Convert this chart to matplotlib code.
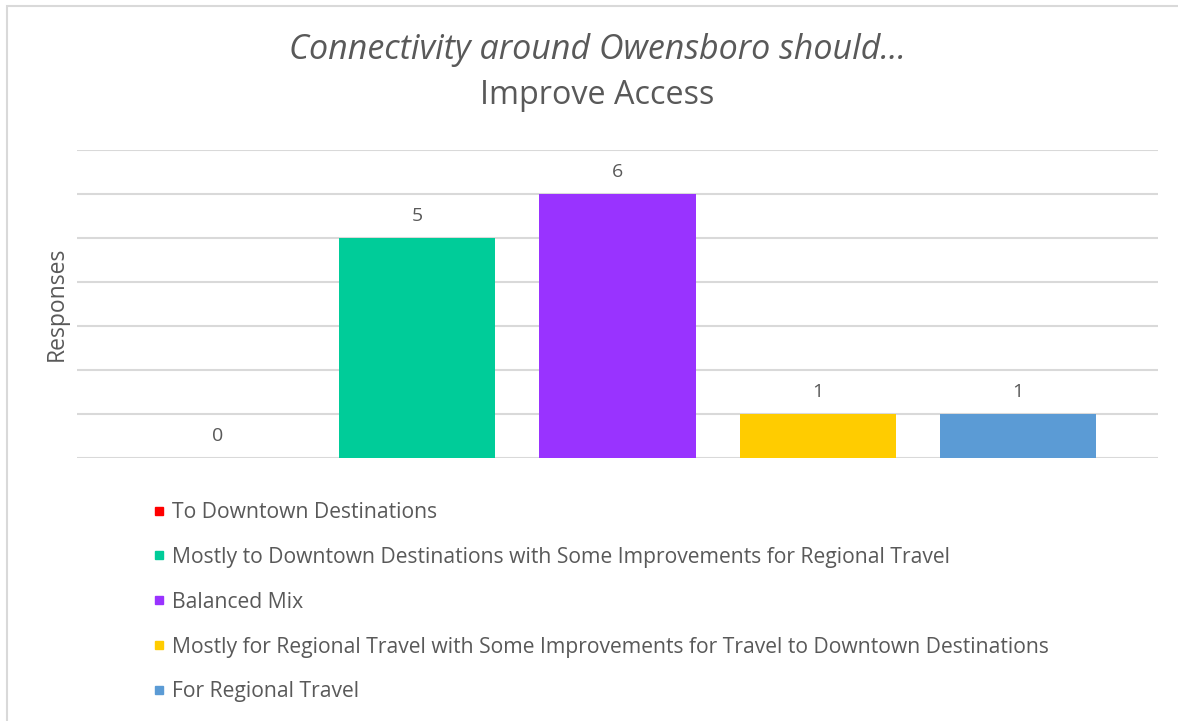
import matplotlib.pyplot as plt
from matplotlib.lines import Line2D
from matplotlib.patches import Rectangle

plt.rcParams['font.family'] = ['Open Sans', 'DejaVu Sans']

categories = [
    'To Downtown Destinations',
    'Mostly to Downtown Destinations with Some Improvements for Regional Travel',
    'Balanced Mix',
    'Mostly for Regional Travel with Some Improvements for Travel to Downtown Destinations',
    'For Regional Travel',
]
responses = [0, 5, 6, 1, 1]
colors = ['#FF0000', '#00CC99', '#9933FF', '#FFCC00', '#5B9BD5']

text_color = '#595959'
grid_color = '#D9D9D9'

W, H = 1178, 721
fig = plt.figure(figsize=(W / 100, H / 100), dpi=100)

# light outer border like a spreadsheet chart frame
fig.patches.append(Rectangle((6.5 / W, -0.1), 1.2, 1.1 - 5.5 / H,
                             transform=fig.transFigure, fill=False,
                             edgecolor=grid_color, linewidth=1.5))

ax = fig.add_axes([77 / W, (H - 458) / H, (1158 - 77) / W, (458 - 150) / H])

x = list(range(len(categories)))
bars = ax.bar(x, responses, width=0.78, color=colors, zorder=3)
for xi, v in zip(x, responses):
    ax.annotate(str(v), (xi, v), xytext=(0, 9.5), textcoords='offset points',
                ha='center', va='bottom', fontsize=14, color=text_color)

ax.set_xlim(-0.7, 4.7)
ax.set_ylim(0, 7)
ax.set_yticks(range(0, 8))
ax.yaxis.grid(True, color=grid_color, linewidth=1.5, zorder=0)
ax.tick_params(left=False, bottom=False, labelleft=False, labelbottom=False)
ax.set_xticks([])
for s in ax.spines.values():
    s.set_visible(False)

ax.set_ylabel('Responses', fontsize=16.5, color=text_color, labelpad=6)

fig.text(597 / W, 1 - 50 / H, 'Connectivity around Owensboro should...',
         ha='center', va='center', fontsize=24.5, style='italic', color=text_color)
fig.text(597 / W, 1 - 96 / H, 'Improve Access',
         ha='center', va='center', fontsize=23.3, color=text_color)

handles = [Line2D([], [], marker='s', linestyle='none', markersize=6,
                  markerfacecolor=c, markeredgecolor=c) for c in colors]
fig.legend(handles, categories, loc='upper left',
           bbox_to_anchor=(152 / W, 1 - 502 / H), frameon=False,
           fontsize=15.2, labelcolor=text_color, labelspacing=1.13,
           handlelength=0.7, handletextpad=0.25, borderaxespad=0, borderpad=0)

fig.savefig('out.png', dpi=100, facecolor='white')
